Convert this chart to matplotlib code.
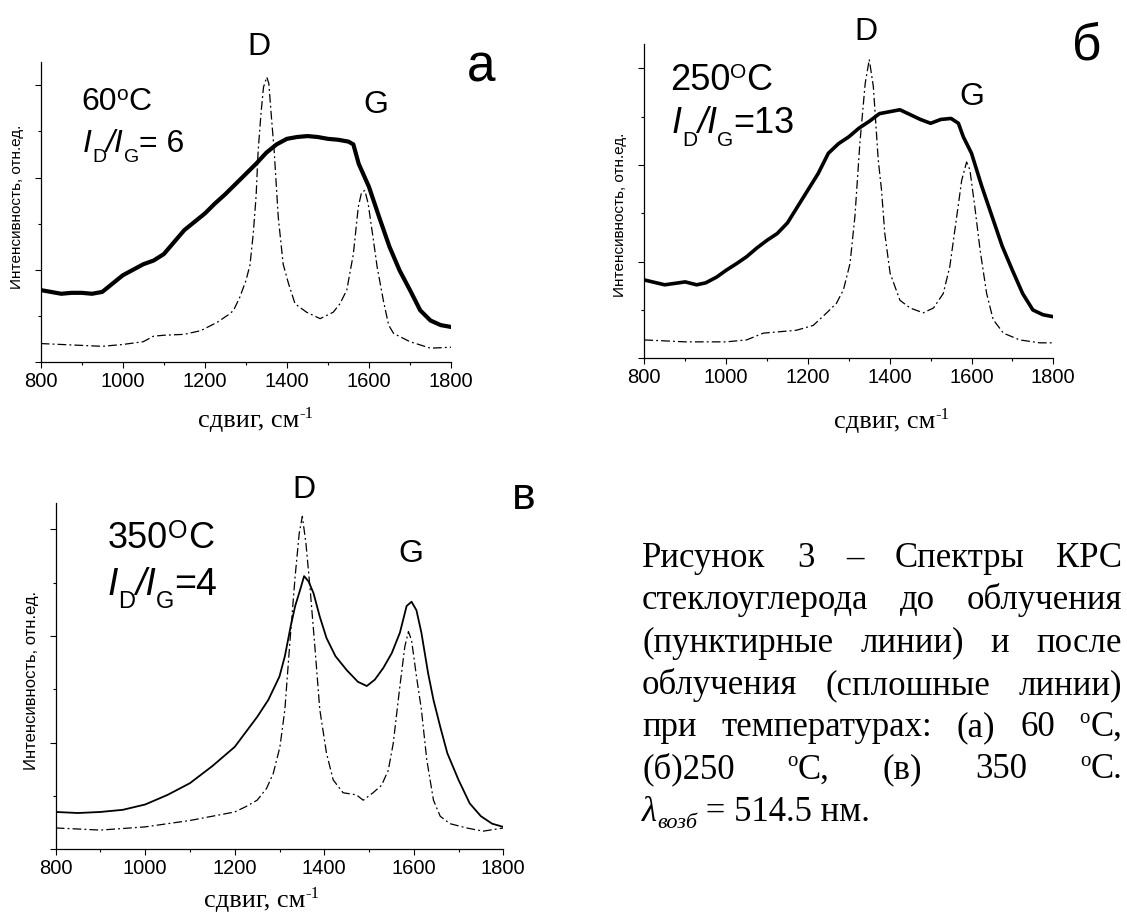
import matplotlib
matplotlib.use("Agg")
import matplotlib.pyplot as plt
from matplotlib.ticker import MultipleLocator

W, H = 1127, 914
SANS = "Liberation Sans"
SERIF = "Liberation Serif"
plt.rcParams["font.family"] = SANS

# --- spectra (x: shift, cm^-1; y: relative intensity) ---
a_solid_x = [800, 825, 850, 875, 900, 925, 950, 975, 1000, 1025, 1050, 1075, 1100, 1125, 1150,
             1175, 1200, 1225, 1250, 1275, 1300, 1325, 1350, 1375, 1400, 1425, 1450, 1475, 1500,
             1525, 1550, 1562, 1575, 1600, 1625, 1650, 1675, 1700, 1725, 1750, 1775, 1800]
a_solid_y = [0.78, 0.76, 0.74, 0.75, 0.75, 0.74, 0.76, 0.85, 0.94, 1.00, 1.06, 1.10, 1.17, 1.30,
             1.43, 1.52, 1.61, 1.72, 1.82, 1.93, 2.04, 2.15, 2.27, 2.36, 2.42, 2.44, 2.45, 2.44,
             2.42, 2.41, 2.39, 2.36, 2.15, 1.90, 1.57, 1.25, 0.99, 0.78, 0.56, 0.45, 0.40, 0.38]
a_dash_x = [800, 850, 900, 950, 1000, 1050, 1075, 1100, 1150, 1190, 1230, 1260, 1270, 1285, 1300,
            1310, 1318, 1325, 1330, 1337, 1343, 1351, 1356, 1361, 1369, 1379, 1391, 1404, 1420,
            1448, 1481, 1513, 1529, 1546, 1562, 1574, 1582, 1590, 1598, 1610, 1620, 1635, 1648,
            1660, 1700, 1750, 1800]
a_dash_y = [0.20, 0.19, 0.18, 0.17, 0.19, 0.22, 0.28, 0.29, 0.30, 0.34, 0.43, 0.52, 0.56, 0.70,
            0.88, 1.05, 1.39, 1.80, 2.29, 2.70, 2.98, 3.09, 3.02, 2.73, 2.29, 1.57, 1.06, 0.85,
            0.63, 0.54, 0.47, 0.54, 0.63, 0.78, 1.17, 1.68, 1.84, 1.86, 1.72, 1.35, 1.03, 0.67,
            0.40, 0.31, 0.22, 0.15, 0.16]

b_solid_x = [800, 850, 900, 928, 950, 977, 1000, 1026, 1050, 1075, 1100, 1125, 1150, 1175, 1200,
             1225, 1250, 1275, 1300, 1325, 1350, 1375, 1400, 1425, 1450, 1475, 1500, 1525, 1550,
             1568, 1580, 1600, 1625, 1650, 1675, 1700, 1725, 1750, 1775, 1800]
b_solid_y = [0.81, 0.76, 0.79, 0.76, 0.78, 0.84, 0.91, 0.98, 1.05, 1.14, 1.22, 1.29, 1.40, 1.57,
             1.74, 1.91, 2.12, 2.22, 2.29, 2.38, 2.45, 2.53, 2.55, 2.57, 2.52, 2.47, 2.43, 2.47,
             2.48, 2.43, 2.29, 2.12, 1.78, 1.47, 1.16, 0.91, 0.67, 0.50, 0.45, 0.43]
b_dash_x = [800, 850, 900, 1000, 1050, 1091, 1172, 1213, 1246, 1270, 1287, 1303, 1315, 1327, 1340,
            1350, 1360, 1372, 1380, 1388, 1401, 1425, 1450, 1482, 1507, 1531, 1547, 1564, 1576,
            1588, 1596, 1608, 1621, 1637, 1653, 1678, 1718, 1767, 1800]
b_dash_y = [0.19, 0.18, 0.17, 0.17, 0.19, 0.26, 0.29, 0.34, 0.47, 0.57, 0.71, 0.98, 1.47, 2.22,
            2.84, 3.09, 2.81, 2.05, 1.74, 1.29, 0.88, 0.60, 0.52, 0.47, 0.52, 0.67, 0.95, 1.47,
            1.84, 2.03, 1.95, 1.57, 1.12, 0.67, 0.40, 0.26, 0.19, 0.16, 0.16]

c_solid_x = [800, 850, 900, 950, 1000, 1050, 1100, 1150, 1200, 1225, 1250, 1275, 1300, 1312, 1325,
             1335, 1346, 1355, 1365, 1376, 1390, 1405, 1425, 1450, 1475, 1495, 1513, 1532, 1551,
             1569, 1584, 1595, 1606, 1617, 1632, 1644, 1659, 1675, 1700, 1725, 1750, 1775, 1800]
c_solid_y = [0.35, 0.34, 0.35, 0.37, 0.42, 0.51, 0.62, 0.78, 0.96, 1.10, 1.24, 1.40, 1.62, 1.81,
             2.09, 2.28, 2.43, 2.56, 2.51, 2.40, 2.18, 1.98, 1.81, 1.68, 1.57, 1.53, 1.59, 1.70,
             1.84, 2.03, 2.28, 2.32, 2.24, 2.03, 1.65, 1.40, 1.15, 0.90, 0.65, 0.43, 0.31, 0.24,
             0.21]
c_dash_x = [800, 900, 1000, 1050, 1100, 1150, 1200, 1225, 1250, 1271, 1286, 1301, 1312, 1323, 1335,
            1344, 1351, 1359, 1368, 1379, 1390, 1405, 1420, 1442, 1472, 1487, 1509, 1528, 1543,
            1554, 1569, 1580, 1588, 1595, 1606, 1617, 1629, 1644, 1659, 1681, 1718, 1755, 1800]
c_dash_y = [0.20, 0.18, 0.21, 0.24, 0.27, 0.31, 0.35, 0.40, 0.46, 0.57, 0.71, 0.96, 1.31, 1.93,
            2.56, 2.96, 3.12, 2.87, 2.46, 1.90, 1.31, 0.90, 0.65, 0.53, 0.51, 0.46, 0.53, 0.60,
            0.74, 0.99, 1.53, 1.90, 2.04, 1.96, 1.62, 1.31, 0.84, 0.46, 0.31, 0.24, 0.20, 0.17,
            0.20]

CAPTION = [
    "Рисунок 3 – Спектры КРС",
    "стеклоуглерода до облучения",
    "(пунктирные линии) и после",
    "облучения (сплошные линии)",
    "при температурах: (а) 60 ^oC,",
    "(б)250 ^oC, (в) 350 ^oC.",
]
YLABEL = "Интенсивность, отн.ед."

fig = plt.figure(figsize=(W / 100, H / 100), dpi=100)
renderer = fig.canvas.get_renderer()


def to_fig(x, y):
    return x / W, 1 - y / H


def make_word(pieces, family):
    # pieces: (text, size, style, raise in px)
    out = []
    for s, size, style, dy in pieces:
        t = fig.text(0, 0, s, fontsize=size, family=family, style=style,
                     ha="left", va="baseline")
        out.append((t, dy, t.get_window_extent(renderer).width))
    return out


def width(word):
    return sum(w for _, _, w in word)


def place(word, x, base):
    for t, dy, w in word:
        t.set_position(to_fig(x, base - dy))
        x += w
    return x


def panel(left, top, right, bottom, sx, sy, dx, dyv, lw):
    ax = fig.add_axes([left / W, 1 - bottom / H, (right - left) / W, (bottom - top) / H])
    ax.plot(dx, dyv, color="black", lw=0.9, linestyle=(0, (7, 2.5, 1.5, 2.5)))
    ax.plot(sx, sy, color="black", lw=lw)
    ax.set_xlim(800, 1800)
    ax.set_ylim(0, 3.25)
    ax.set_xticks(range(800, 1801, 200))
    ax.xaxis.set_minor_locator(MultipleLocator(100))
    ax.set_yticks([0, 1, 2, 3])
    ax.set_yticklabels([])
    ax.yaxis.set_minor_locator(MultipleLocator(0.5))
    ax.tick_params(which="major", direction="out", length=4, width=0.8, labelsize=14.5, pad=3)
    ax.tick_params(which="minor", direction="out", length=2.5, width=0.8)
    for s in ("top", "right"):
        ax.spines[s].set_visible(False)
    for s in ("left", "bottom"):
        ax.spines[s].set_linewidth(0.9)
    return ax


panel(40.7, 62.3, 451, 362, a_solid_x, a_solid_y, a_dash_x, a_dash_y, 3.0)
panel(644.3, 44.0, 1053.3, 358.3, b_solid_x, b_solid_y, b_dash_x, b_dash_y, 2.6)
panel(55.7, 502.5, 503.3, 849.3, c_solid_x, c_solid_y, c_dash_x, c_dash_y, 1.3)


def label(s, x, base, size):
    fig.text(*to_fig(x, base), s, fontsize=size, family=SANS, ha="center", va="baseline")


# peak labels and panel letters
label("D", 259, 55, 23)
label("G", 376, 113, 23)
label("а", 481, 82, 37)
label("D", 866, 40, 23)
label("G", 972, 105, 23)
label("б", 1087, 60, 37)
label("D", 304, 498, 23)
label("G", 411, 562, 23)
label("в", 524, 509, 32)

# temperatures and intensity ratios
place(make_word([("60", 23, "normal", 0), ("o", 15, "normal", 10), ("C", 23, "normal", 0)], SANS), 81, 110)
place(make_word([("I", 23, "italic", 0), ("D", 14, "normal", -10), ("/I", 23, "italic", 0),
                 ("G", 14, "normal", -10), ("= 6", 23, "normal", 0)], SANS), 83, 152)
place(make_word([("250", 26, "normal", 0), ("O", 15, "normal", 12), ("C", 26, "normal", 0)], SANS), 670, 90)
place(make_word([("I", 26, "italic", 0), ("D", 15, "normal", -13), ("/I", 26, "italic", 0),
                 ("G", 15, "normal", -13), ("=13", 26, "normal", 0)], SANS), 672, 133)
place(make_word([("350", 26, "normal", 0), ("O", 18, "normal", 10), ("C", 26, "normal", 0)], SANS), 108, 548)
place(make_word([("I", 27, "italic", 0), ("D", 17, "normal", -13), ("/I", 27, "italic", 0),
                 ("G", 17, "normal", -13), ("=4", 27, "normal", 0)], SANS), 108, 595)

# y labels
for x, y, size in [(17.5, 207, 11), (620, 215, 11), (32, 680, 12)]:
    fig.text(*to_fig(x, y), YLABEL, fontsize=size, family=SANS, rotation=90,
             ha="center", va="center")

# x labels
for cx, base in [(256, 427), (892, 428), (262, 907)]:
    w = make_word([("сдвиг, см", 19, "normal", 0), ("-1", 12, "normal", 9)], SERIF)
    place(w, cx - width(w) / 2, base)

# caption, justified
CAP_SIZE, SUP_SIZE = 25, 15
LEFT, RIGHT, BASE0, STEP = 642, 1122, 567, 42.3


def caption_word(tok):
    if tok.startswith("^o"):
        return make_word([("o", SUP_SIZE, "normal", 13), (tok[2:], CAP_SIZE, "normal", 0)], SERIF)
    return make_word([(tok, CAP_SIZE, "normal", 0)], SERIF)


for i, line in enumerate(CAPTION):
    words = [caption_word(tok) for tok in line.split()]
    gap = (RIGHT - LEFT - sum(width(w) for w in words)) / (len(words) - 1)
    x = LEFT
    for w in words:
        x = place(w, x, BASE0 + i * STEP) + gap

last = make_word([("λ", CAP_SIZE, "italic", 0), ("возб", 16, "italic", -7),
                  (" = 514.5 нм.", CAP_SIZE, "normal", 0)], SERIF)
place(last, LEFT, BASE0 + 6 * STEP)

fig.savefig("out.png", dpi=100)
